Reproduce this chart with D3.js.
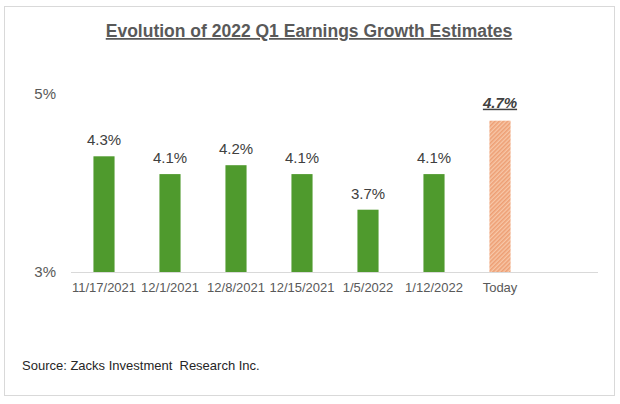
<!DOCTYPE html>
<html>
<head>
<meta charset="utf-8">
<script src="https://cdn.jsdelivr.net/npm/d3@7"></script>
<style>
  body { margin: 0; background: #fff; }
  svg { font-family: Arial, "Liberation Sans", sans-serif; }
</style>
</head>
<body>
<svg id="chart"></svg>
<script>
const categories = ['11/17/2021', '12/1/2021', '12/8/2021', '12/15/2021', '1/5/2022', '1/12/2022', 'Today'];
const values = [4.3, 4.1, 4.2, 4.1, 3.7, 4.1, 4.7];
const yTicks = [3, 5];
const highlight = 'Today';

const svgWidth = 620, svgHeight = 404;
const margin = { top: 94, left: 71, bottom: 132 };
const step = 66;
const baseY = svgHeight - margin.bottom;

let svg = d3.select('#chart')
  .attr('width', svgWidth)
  .attr('height', svgHeight);

// hatch for the last bar
const defs = svg.append('defs');
const pat = defs.append('pattern')
  .attr('id', 'hatch')
  .attr('patternUnits', 'userSpaceOnUse')
  .attr('width', 3)
  .attr('height', 3)
  .attr('patternTransform', 'rotate(45)');
pat.append('rect').attr('width', 3).attr('height', 3).attr('fill', '#f7c7a8');
pat.append('rect').attr('width', 1.6).attr('height', 3).attr('fill', '#ee9f74');

// outer frame
svg.append('rect')
  .attr('x', 4.5).attr('y', 6.5)
  .attr('width', 610).attr('height', 389)
  .attr('fill', 'none')
  .attr('stroke', '#d9d9d9');

let x = d3.scaleBand()
  .domain(categories)
  .range([margin.left, margin.left + step * categories.length])
  .paddingInner(0.68)
  .paddingOuter(0.34);

let y = d3.scaleLinear()
  .domain([3, 5])
  .range([baseY, margin.top]);

// title
svg.append('text')
  .attr('x', 309)
  .attr('y', 37)
  .attr('text-anchor', 'middle')
  .attr('font-size', '17.5px')
  .attr('font-weight', 'bold')
  .attr('fill', '#595959')
  .attr('text-decoration', 'underline')
  .text('Evolution of 2022 Q1 Earnings Growth Estimates');

// y labels (no axis line)
svg.append('g')
  .selectAll('text')
  .data(yTicks)
  .enter()
  .append('text')
  .attr('x', 56)
  .attr('y', d => y(d))
  .attr('dy', '0.35em')
  .attr('text-anchor', 'end')
  .attr('font-size', '15px')
  .attr('fill', '#595959')
  .text(d => d + '%');

// x axis
const xAxis = svg.append('g')
  .attr('transform', 'translate(0,' + baseY + ')')
  .call(d3.axisBottom(x).tickSize(0).tickPadding(11));
xAxis.select('.domain').remove();
xAxis.selectAll('text')
  .attr('font-size', '13px')
  .attr('font-family', 'Arial, "Liberation Sans", sans-serif')
  .attr('fill', '#595959');

svg.append('line')
  .attr('x1', margin.left).attr('x2', 598)
  .attr('y1', baseY + 0.5).attr('y2', baseY + 0.5)
  .attr('stroke', '#d9d9d9');

// bars
let bars = svg.selectAll('.bar')
  .data(categories)
  .enter()
  .append('g');

bars.append('rect')
  .attr('x', d => x(d))
  .attr('y', (d, i) => y(values[i]))
  .attr('width', x.bandwidth())
  .attr('height', (d, i) => baseY - y(values[i]))
  .attr('fill', d => d === highlight ? 'url(#hatch)' : '#4f9a2d');

bars.append('text')
  .text((d, i) => values[i].toFixed(1) + '%')
  .attr('x', d => x(d) + x.bandwidth() / 2)
  .attr('y', (d, i) => y(values[i]) - (d === highlight ? 13 : 11))
  .attr('text-anchor', 'middle')
  .attr('font-size', '15px')
  .attr('fill', '#404040')
  .attr('font-weight', d => d === highlight ? 'bold' : 'normal')
  .attr('font-style', d => d === highlight ? 'italic' : 'normal')
  .attr('text-decoration', d => d === highlight ? 'underline' : 'none');

// source
svg.append('text')
  .attr('x', 22)
  .attr('y', 370)
  .attr('font-size', '13px')
  .attr('fill', '#262626')
  .text('Source: Zacks Investment  Research Inc.')
  .style('white-space', 'pre');
</script>
</body>
</html>
